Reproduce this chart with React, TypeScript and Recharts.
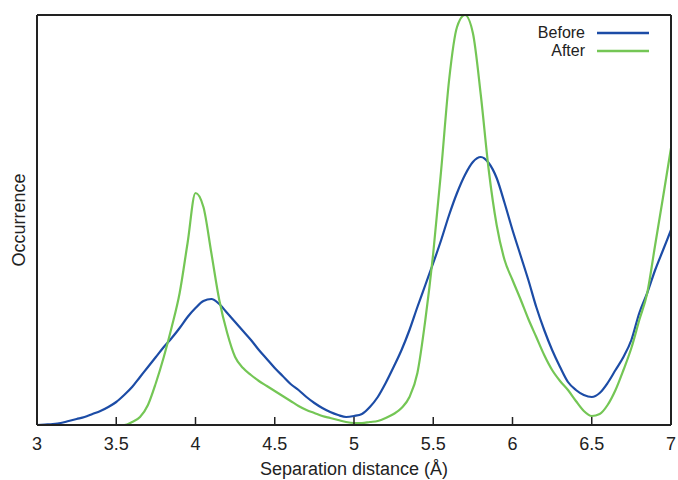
import { LineChart, Line, XAxis, YAxis } from 'recharts';

const distance = [
  3.0, 3.05, 3.1, 3.15, 3.2, 3.25, 3.3, 3.35, 3.4, 3.45,
  3.5, 3.55, 3.6, 3.65, 3.7, 3.75, 3.8, 3.85, 3.9, 3.95,
  4.0, 4.05, 4.1, 4.15, 4.2, 4.25, 4.3, 4.35, 4.4, 4.45,
  4.5, 4.55, 4.6, 4.65, 4.7, 4.75, 4.8, 4.85, 4.9, 4.95,
  5.0, 5.05, 5.1, 5.15, 5.2, 5.25, 5.3, 5.35, 5.4, 5.45,
  5.5, 5.55, 5.6, 5.65, 5.7, 5.75, 5.8, 5.85, 5.9, 5.95,
  6.0, 6.05, 6.1, 6.15, 6.2, 6.25, 6.3, 6.35, 6.4, 6.45,
  6.5, 6.55, 6.6, 6.65, 6.7, 6.75, 6.8, 6.85, 6.9, 6.95,
  7.0,
];

const before = [
  0, 0.5, 1, 2, 4, 6, 8, 11, 14, 18,
  23, 30, 38, 48, 58, 68, 78, 87, 97, 108,
  117, 124, 126, 121, 112, 103, 94, 85, 75, 66,
  57, 49, 41, 35, 28, 22, 17, 13, 10, 8,
  9, 11, 18, 28, 42, 58, 75, 95, 118, 140,
  162, 185, 210, 232, 250, 263, 268, 262, 247, 222,
  195, 170, 145, 118, 95, 75, 58, 43, 35, 30,
  28, 32, 42, 55, 68, 85, 112, 132, 155, 175,
  195,
];

const after = [
  0, 0, 0, 0, 0, 0, 0, 0, 0, 0,
  0, 0, 3, 8, 20, 42, 68, 98, 132, 182,
  232, 218, 172, 125, 92, 68, 57, 50, 44, 39,
  34, 29, 24, 19, 15, 12, 9, 7, 5, 3,
  2, 2, 3, 4, 7, 11, 17, 28, 52, 105,
  172, 255, 345, 398, 410, 392, 330, 255, 200, 165,
  145, 126, 106, 88, 70, 55, 44, 35, 24, 14,
  9, 11, 20, 35, 55, 77, 105, 132, 180, 228,
  277,
];

const xTicks = [3, 3.5, 4, 4.5, 5, 5.5, 6, 6.5, 7];

const data = distance.map((d, i) => ({ d, before: before[i], after: after[i] }));

const font = '"Liberation Sans", Arial, sans-serif';
const ink = '#222';
const blue = '#1c4ca6';
const green = '#74c655';

const legendRows = [
  { name: 'Before', color: blue },
  { name: 'After', color: green },
];

// inward tick mark + label below the axis (y is the axis line here)
function XTick(props: any) {
  const { x, y, payload } = props;
  return (
    <g>
      <line x1={x} x2={x} y1={y} y2={y - 8} stroke={ink} strokeWidth={1.5} />
      <text x={x} y={y + 12} dy="0.71em" textAnchor="middle" fill={ink} fontSize={18} fontFamily={font}>
        {payload.value}
      </text>
    </g>
  );
}

function LegendBox() {
  return (
    <div style={{ position: 'absolute', left: 520, top: 24, fontFamily: font, fontSize: 16, color: ink }}>
      {legendRows.map(r => (
        <div key={r.name} style={{ display: 'flex', alignItems: 'center', height: 18 }}>
          <span style={{ width: 65, textAlign: 'right', lineHeight: '18px' }}>{r.name}</span>
          <svg width={64} height={18} style={{ marginLeft: 12 }}>
            <line x1={0} x2={52} y1={9} y2={9} stroke={r.color} strokeWidth={2.5} />
          </svg>
        </div>
      ))}
    </div>
  );
}

export default function App() {
  return (
    <div style={{ position: 'absolute', left: 0, top: 0, width: 678, height: 480, background: '#fff' }}>
      <LineChart width={678} height={480} data={data} margin={{ top: 14, right: 6, bottom: 0, left: 0 }}>
        <XAxis
          xAxisId="bottom"
          dataKey="d"
          type="number"
          domain={[3, 7]}
          ticks={xTicks}
          height={55}
          tickSize={0}
          tickMargin={0}
          axisLine={{ stroke: ink, strokeWidth: 2 }}
          tickLine={false}
          tick={<XTick />}
          label={{ value: 'Separation distance (Å)', position: 'insideBottom', offset: 5, fill: ink, fontSize: 18, fontFamily: font }}
        />
        <XAxis
          xAxisId="top"
          dataKey="d"
          type="number"
          domain={[3, 7]}
          orientation="top"
          height={1}
          tick={false}
          tickLine={false}
          axisLine={{ stroke: ink, strokeWidth: 2 }}
        />
        <YAxis
          yAxisId="left"
          type="number"
          domain={[0, 410]}
          allowDataOverflow
          width={37}
          tick={false}
          tickLine={false}
          axisLine={{ stroke: ink, strokeWidth: 2 }}
          label={{ value: 'Occurrence', angle: -90, position: 'center', fill: ink, fontSize: 18, fontFamily: font }}
        />
        <YAxis
          yAxisId="right"
          orientation="right"
          type="number"
          domain={[0, 410]}
          width={1}
          tick={false}
          tickLine={false}
          axisLine={{ stroke: ink, strokeWidth: 2 }}
        />
        <Line
          xAxisId="bottom"
          yAxisId="left"
          dataKey="before"
          name="Before"
          type="monotone"
          stroke={blue}
          strokeWidth={2.2}
          dot={false}
          isAnimationActive={false}
        />
        <Line
          xAxisId="bottom"
          yAxisId="left"
          dataKey="after"
          name="After"
          type="monotone"
          stroke={green}
          strokeWidth={2.2}
          dot={false}
          isAnimationActive={false}
        />
      </LineChart>
      <LegendBox />
    </div>
  );
}
